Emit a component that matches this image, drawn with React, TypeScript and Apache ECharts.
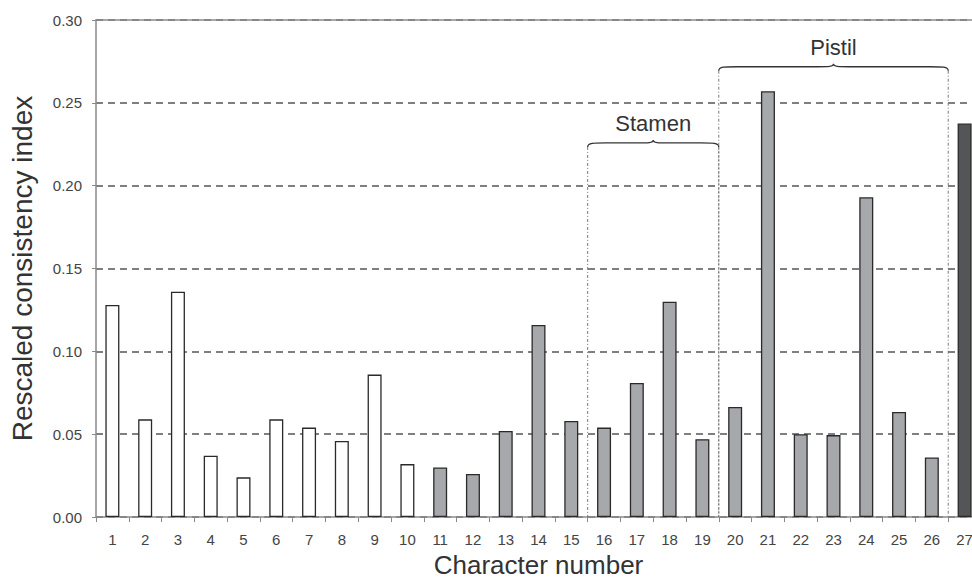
import React, { useEffect, useRef } from "react";
import * as echarts from "echarts";

const categories = Array.from({ length: 27 }, (_, i) => String(i + 1));
const values = [
  0.128, 0.059, 0.136, 0.037, 0.024, 0.059, 0.054, 0.046, 0.086, 0.032,
  0.030, 0.026, 0.052, 0.116, 0.058, 0.054, 0.081, 0.130, 0.047, 0.0665,
  0.257, 0.050, 0.0495, 0.193, 0.0635, 0.036, 0.2375,
];
// group of each character: 0 = open bars, 1 = grey bars, 2 = dark bar
const groups = [0,0,0,0,0,0,0,0,0,0,1,1,1,1,1,1,1,1,1,1,1,1,1,1,1,1,2];
// brackets: [first category index, last category index, level]
const bracketRanges = [
  [15, 18, 0.2258],
  [19, 25, 0.2718],
];
const bracketLabels = ["Stamen", "Pistil"];

const FONT = "'Liberation Sans', Arial, Helvetica, sans-serif";
const fills = ["#ffffff", "#a7a8ab", "#545557"];

export default function App() {
  const ref = useRef<HTMLDivElement>(null);
  useEffect(() => {
    document.body.style.margin = "0";
    const chart = echarts.init(ref.current!, null, { renderer: "svg" });
    const option: any = {
      animation: false,
      backgroundColor: "#ffffff",
      textStyle: { fontFamily: FONT },
      grid: { left: 95, top: 20, height: 499, width: 886, containLabel: false },
      xAxis: [
        {
          type: "category",
          data: categories,
          name: "Character number",
          nameLocation: "middle",
          nameGap: 34,
          nameTextStyle: { fontSize: 26, color: "#333", fontFamily: FONT },
          axisLine: { lineStyle: { color: "#8a8a8a", width: 1.5 } },
          axisTick: { show: true, length: 5, lineStyle: { color: "#8a8a8a" } },
          axisLabel: { fontSize: 15, color: "#444", margin: 15, fontFamily: FONT, interval: 0 },
          splitLine: { show: false },
        },
        {
          type: "category",
          data: categories,
          position: "top",
          axisLine: { show: true, lineStyle: { color: "#8a8a8a", width: 1.5 } },
          axisTick: { show: false },
          axisLabel: { show: false },
        },
      ],
      yAxis: {
        type: "value",
        min: 0,
        max: 0.3,
        interval: 0.05,
        name: "Rescaled consistency index",
        nameLocation: "middle",
        nameGap: 60,
        nameTextStyle: { fontSize: 28, color: "#333", fontFamily: FONT },
        axisLine: { show: true, lineStyle: { color: "#8a8a8a", width: 1.5 } },
        axisTick: { show: true, length: 4, lineStyle: { color: "#8a8a8a" } },
        axisLabel: {
          fontSize: 15,
          color: "#444",
          margin: 14,
          fontFamily: FONT,
          formatter: (v: number) => v.toFixed(2),
        },
        splitLine: {
          show: true,
          lineStyle: { color: "#555", width: 1.5, type: [7, 5] },
        },
      },
      series: [
        {
          type: "bar",
          barWidth: 14,
          data: values.map((v, i) => ({
            value: v,
            itemStyle: {
              color: fills[groups[i]],
              borderColor: "#2a2a2a",
              borderWidth: 1.3,
            },
          })),
          z: 3,
        },
        {
          type: "custom",
          coordinateSystem: "cartesian2d",
          xAxisIndex: 0,
          yAxisIndex: 0,
          z: 4,
          data: bracketRanges,
          renderItem: (params: any, api: any) => {
            const s = api.value(0);
            const e = api.value(1);
            const lv = api.value(2);
            const bw = api.size([1, 0])[0];
            const p1 = api.coord([s, lv]);
            const p2 = api.coord([e, lv]);
            const y0 = api.coord([s, 0])[1];
            const x1 = p1[0] - bw / 2;
            const x2 = p2[0] + bw / 2;
            const y = p1[1];
            const mid = (x1 + x2) / 2;
            const d =
              `M${x1},${y + 4} C${x1},${y} ${x1 + 6},${y} ${x1 + 18},${y} ` +
              `L${mid - 16},${y} C${mid - 5},${y} ${mid},${y} ${mid},${y - 3} ` +
              `C${mid},${y} ${mid + 5},${y} ${mid + 16},${y} ` +
              `L${x2 - 18},${y} C${x2 - 6},${y} ${x2},${y} ${x2},${y + 4}`;
            const lineStyle = {
              stroke: "#7a7a7a",
              lineWidth: 1,
              lineDash: [3, 2, 1, 2],
            };
            return {
              type: "group",
              children: [
                { type: "line", shape: { x1: x1, y1: y + 4, x2: x1, y2: y0 }, style: lineStyle },
                { type: "line", shape: { x1: x2, y1: y + 4, x2: x2, y2: y0 }, style: lineStyle },
                { type: "path", shape: { pathData: d }, style: { stroke: "#333", lineWidth: 1.3, fill: "none" } },
                {
                  type: "text",
                  style: {
                    text: bracketLabels[params.dataIndex],
                    x: mid,
                    y: y - 8,
                    align: "center",
                    verticalAlign: "bottom",
                    fontSize: 22,
                    fill: "#333",
                    fontFamily: FONT,
                  },
                },
              ],
            };
          },
        },
      ],
    };
    chart.setOption(option);
    return () => chart.dispose();
  }, []);
  return (
    <div style={{ width: 972, height: 583, overflow: "hidden", position: "relative" }}>
      <div ref={ref} style={{ width: 990, height: 583 }} />
    </div>
  );
}
